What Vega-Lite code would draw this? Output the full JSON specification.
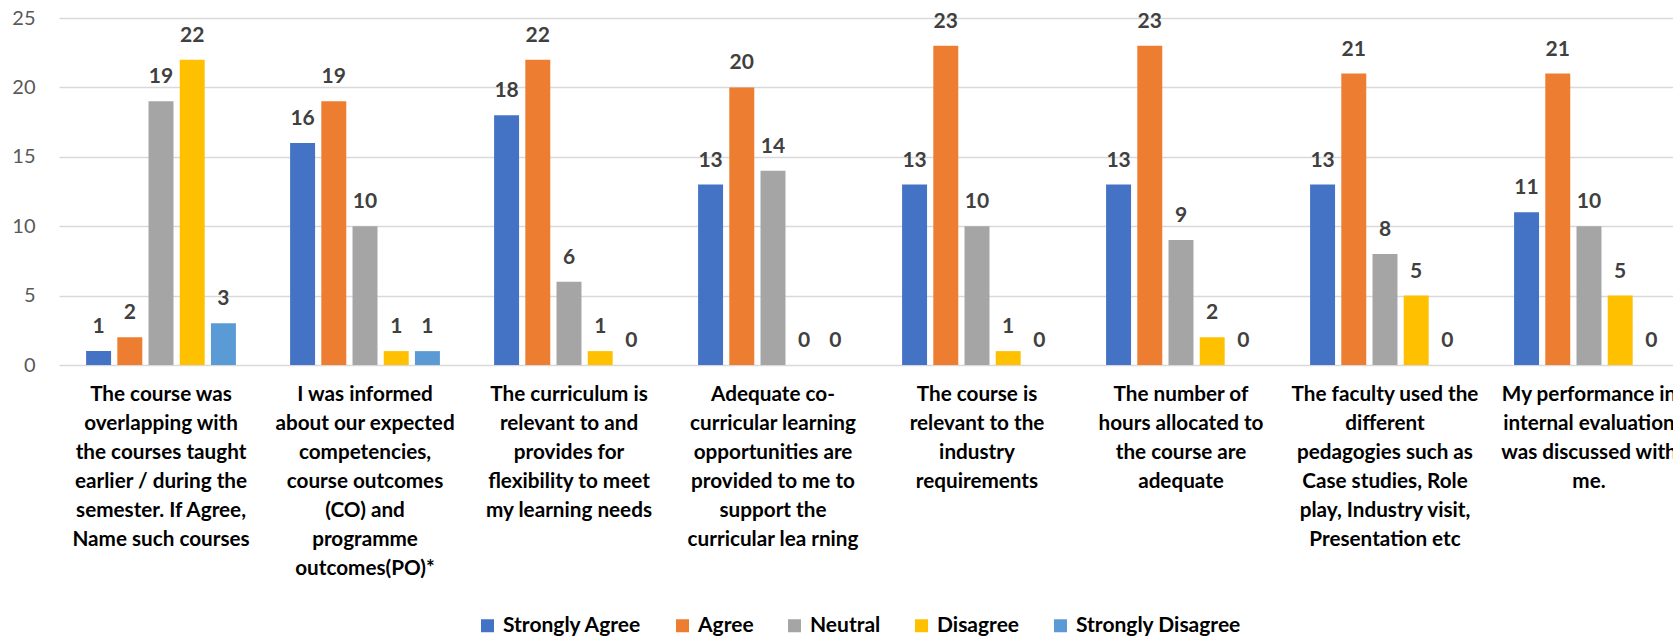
{
  "$schema": "https://vega.github.io/schema/vega-lite/v6.json",
  "autosize": "none",
  "width": 1614,
  "height": 347,
  "padding": {"left": 59, "top": 18, "right": 0, "bottom": 273},
  "background": "white",
  "config": {"view": {"stroke": null}, "font": "Lato"},
  "data": {
    "values": [
      {"q": "The course was|overlapping with|the courses taught|earlier / during the|semester. If Agree,|Name such courses", "resp": "Strongly Agree", "count": 1},
      {"q": "The course was|overlapping with|the courses taught|earlier / during the|semester. If Agree,|Name such courses", "resp": "Agree", "count": 2},
      {"q": "The course was|overlapping with|the courses taught|earlier / during the|semester. If Agree,|Name such courses", "resp": "Neutral", "count": 19},
      {"q": "The course was|overlapping with|the courses taught|earlier / during the|semester. If Agree,|Name such courses", "resp": "Disagree", "count": 22},
      {"q": "The course was|overlapping with|the courses taught|earlier / during the|semester. If Agree,|Name such courses", "resp": "Strongly Disagree", "count": 3},
      {"q": "I was informed|about our expected|competencies,|course outcomes|(CO) and|programme|outcomes(PO)*", "resp": "Strongly Agree", "count": 16},
      {"q": "I was informed|about our expected|competencies,|course outcomes|(CO) and|programme|outcomes(PO)*", "resp": "Agree", "count": 19},
      {"q": "I was informed|about our expected|competencies,|course outcomes|(CO) and|programme|outcomes(PO)*", "resp": "Neutral", "count": 10},
      {"q": "I was informed|about our expected|competencies,|course outcomes|(CO) and|programme|outcomes(PO)*", "resp": "Disagree", "count": 1},
      {"q": "I was informed|about our expected|competencies,|course outcomes|(CO) and|programme|outcomes(PO)*", "resp": "Strongly Disagree", "count": 1},
      {"q": "The curriculum is|relevant to and|provides for|flexibility to meet|my learning needs", "resp": "Strongly Agree", "count": 18},
      {"q": "The curriculum is|relevant to and|provides for|flexibility to meet|my learning needs", "resp": "Agree", "count": 22},
      {"q": "The curriculum is|relevant to and|provides for|flexibility to meet|my learning needs", "resp": "Neutral", "count": 6},
      {"q": "The curriculum is|relevant to and|provides for|flexibility to meet|my learning needs", "resp": "Disagree", "count": 1},
      {"q": "The curriculum is|relevant to and|provides for|flexibility to meet|my learning needs", "resp": "Strongly Disagree", "count": 0},
      {"q": "Adequate co-|curricular learning|opportunities are|provided to me to|support the|curricular lea rning", "resp": "Strongly Agree", "count": 13},
      {"q": "Adequate co-|curricular learning|opportunities are|provided to me to|support the|curricular lea rning", "resp": "Agree", "count": 20},
      {"q": "Adequate co-|curricular learning|opportunities are|provided to me to|support the|curricular lea rning", "resp": "Neutral", "count": 14},
      {"q": "Adequate co-|curricular learning|opportunities are|provided to me to|support the|curricular lea rning", "resp": "Disagree", "count": 0},
      {"q": "Adequate co-|curricular learning|opportunities are|provided to me to|support the|curricular lea rning", "resp": "Strongly Disagree", "count": 0},
      {"q": "The course is|relevant to the|industry|requirements", "resp": "Strongly Agree", "count": 13},
      {"q": "The course is|relevant to the|industry|requirements", "resp": "Agree", "count": 23},
      {"q": "The course is|relevant to the|industry|requirements", "resp": "Neutral", "count": 10},
      {"q": "The course is|relevant to the|industry|requirements", "resp": "Disagree", "count": 1},
      {"q": "The course is|relevant to the|industry|requirements", "resp": "Strongly Disagree", "count": 0},
      {"q": "The number of|hours allocated to|the course are|adequate", "resp": "Strongly Agree", "count": 13},
      {"q": "The number of|hours allocated to|the course are|adequate", "resp": "Agree", "count": 23},
      {"q": "The number of|hours allocated to|the course are|adequate", "resp": "Neutral", "count": 9},
      {"q": "The number of|hours allocated to|the course are|adequate", "resp": "Disagree", "count": 2},
      {"q": "The number of|hours allocated to|the course are|adequate", "resp": "Strongly Disagree", "count": 0},
      {"q": "The faculty used the|different|pedagogies such as|Case studies, Role|play, Industry visit,|Presentation etc", "resp": "Strongly Agree", "count": 13},
      {"q": "The faculty used the|different|pedagogies such as|Case studies, Role|play, Industry visit,|Presentation etc", "resp": "Agree", "count": 21},
      {"q": "The faculty used the|different|pedagogies such as|Case studies, Role|play, Industry visit,|Presentation etc", "resp": "Neutral", "count": 8},
      {"q": "The faculty used the|different|pedagogies such as|Case studies, Role|play, Industry visit,|Presentation etc", "resp": "Disagree", "count": 5},
      {"q": "The faculty used the|different|pedagogies such as|Case studies, Role|play, Industry visit,|Presentation etc", "resp": "Strongly Disagree", "count": 0},
      {"q": "My performance in|internal evaluation|was discussed with|me.", "resp": "Strongly Agree", "count": 11},
      {"q": "My performance in|internal evaluation|was discussed with|me.", "resp": "Agree", "count": 21},
      {"q": "My performance in|internal evaluation|was discussed with|me.", "resp": "Neutral", "count": 10},
      {"q": "My performance in|internal evaluation|was discussed with|me.", "resp": "Disagree", "count": 5},
      {"q": "My performance in|internal evaluation|was discussed with|me.", "resp": "Strongly Disagree", "count": 0}
    ]
  },
  "encoding": {
    "x": {
      "field": "q", "type": "nominal", "sort": null, "title": null,
      "scale": {"range": [0, 1632], "paddingInner": 0.235, "paddingOuter": 0.1176},
      "axis": {
        "labelExpr": "split(datum.label, '|')",
        "labelAngle": 0, "domain": false, "ticks": false,
        "labelFont": "Lato", "labelFontWeight": "bold", "labelFontSize": 20.7,
        "labelColor": "#000000", "labelLineHeight": 29, "labelPadding": 19,
        "labelLimit": 400, "labelOverlap": false, "labelBound": false
      }
    },
    "xOffset": {
      "field": "resp", "type": "nominal",
      "sort": ["Strongly Agree", "Agree", "Neutral", "Disagree", "Strongly Disagree"],
      "scale": {"paddingInner": 0.2, "paddingOuter": 0.1}
    },
    "y": {
      "field": "count", "type": "quantitative", "title": null,
      "scale": {"domain": [0, 25]},
      "axis": {
        "values": [0, 5, 10, 15, 20, 25], "domain": false, "ticks": false,
        "grid": true, "gridColor": "#d9d9d9", "gridWidth": 1.5,
        "labelFont": "Lato", "labelFontSize": 20, "labelColor": "#595959",
        "labelPadding": 24
      }
    }
  },
  "layer": [
    {
      "mark": {"type": "bar"},
      "encoding": {
        "color": {
          "field": "resp", "type": "nominal", "title": null,
          "scale": {
            "domain": ["Strongly Agree", "Agree", "Neutral", "Disagree", "Strongly Disagree"],
            "range": ["#4472C4", "#ED7D31", "#A5A5A5", "#FFC000", "#5B9BD5"]
          },
          "legend": {
            "orient": "none", "legendX": 418, "legendY": 597,
            "direction": "horizontal", "symbolType": "square", "symbolSize": 169,
            "symbolStrokeWidth": 0, "labelFont": "Lato", "labelFontWeight": "bold",
            "labelFontSize": 21, "labelColor": "#000000", "labelOffset": 5,
            "columnPadding": 30, "labelLimit": 300
          }
        }
      }
    },
    {
      "mark": {"type": "text", "baseline": "alphabetic", "dy": -18, "font": "Lato", "fontWeight": "bold", "fontSize": 21, "color": "#404040"},
      "encoding": {"text": {"field": "count", "type": "quantitative"}}
    }
  ]
}
